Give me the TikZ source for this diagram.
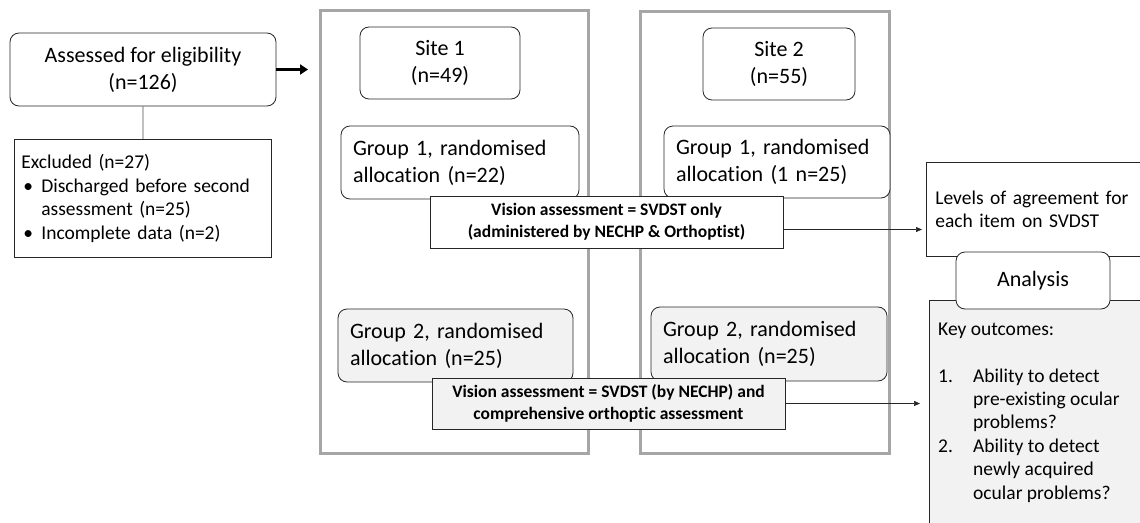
\documentclass[tikz,border=0pt]{standalone}
\usepackage{fontspec}
\usepackage{tikz}
\usepackage{xcolor}
\usetikzlibrary{arrows.meta}
\setmainfont{Carlito}[Ligatures=NoCommon]

\definecolor{boxgray}{HTML}{F2F2F2}
\definecolor{framegray}{HTML}{A6A6A6}
\newcommand{\bigtxt}{\fontsize{22}{27}\selectfont}
\newcommand{\smalltxt}{\fontsize{19.5}{23.4}\selectfont}
\newcommand{\boldtxt}{\fontsize{17.5}{22}\selectfont\bfseries}

\tikzset{
    roundbox/.style={draw=black!85, line width=0.8pt, rounded corners=9pt, fill=white, font=\bigtxt, align=center},
    groupbox/.style={roundbox, align=left, inner xsep=12pt},
    plainbox/.style={draw=black!85, line width=0.8pt, fill=white, font=\smalltxt, align=left, inner xsep=7pt},
    visionbox/.style={draw=black!85, line width=0.8pt, fill=white, font=\boldtxt, align=center},
    sitebox/.style={draw=framegray, line width=2.6pt, anchor=north west},
    thinarrow/.style={draw=black!85, line width=0.7pt, -{Triangle[length=6pt,width=5pt]}}
}

\begin{document}
\begin{tikzpicture}[x=1pt, y=-1pt]
    \useasboundingbox (0,0) rectangle (1140,522);

    % Enrolment
    \node[roundbox, minimum width=266, minimum height=73] (assessed) at (143,69.5) {Assessed for eligibility\\(n=126)};
    \node[plainbox, anchor=north west, text width=243, minimum height=118] (excluded) at (14,139)
        {Excluded (n=27)\\
         \makebox[20pt][l]{\hspace{2pt}\textbullet}Discharged before second\\
         \hspace*{20pt}assessment (n=25)\\
         \makebox[20pt][l]{\hspace{2pt}\textbullet}Incomplete data (n=2)};
    \draw[black!70, line width=0.7pt] (assessed.south) -- (excluded.north);

    % The two sites
    \node[sitebox, minimum width=268, minimum height=443] (site1frame) at (319,9) {};
    \node[sitebox, minimum width=249, minimum height=442] (site2frame) at (639,10) {};
    \draw[line width=2.6pt, -{Triangle[length=8pt,width=10pt]}, shorten >=11pt] (assessed.east) -- (assessed.east -| site1frame.west);

    \node[roundbox, minimum width=160, minimum height=72] (site1) at (440,63) {Site 1\\(n=49)};
    \node[roundbox, minimum width=152, minimum height=72] (site2) at (779,64) {Site 2\\(n=55)};

    % Randomised groups
    \node[groupbox, text width=214, minimum height=73] (group1a) at (460,162.5) {Group 1, randomised\\allocation (n=22)};
    \node[groupbox, text width=202, minimum height=72] (group1b) at (777,162) {Group 1, randomised\\allocation (1 n=25)};
    \node[groupbox, fill=boxgray, text width=211, minimum height=73] (group2a) at (455.5,345.5) {Group 2, randomised\\allocation (n=25)};
    \node[groupbox, fill=boxgray, text width=212, minimum height=74] (group2b) at (769,344) {Group 2, randomised\\allocation (n=25)};

    % Vision assessments
    \node[visionbox, minimum width=353, minimum height=52] (vision1) at (606.5,222) {Vision assessment = SVDST only\\(administered by NECHP \& Orthoptist)};
    \node[visionbox, fill=boxgray, minimum width=353, minimum height=51] (vision2) at (608.5,403.5) {Vision assessment = SVDST (by NECHP) and\\comprehensive orthoptic assessment};

    % Analysis
    \node[plainbox, anchor=north west, text width=212, inner xsep=9pt, minimum height=94] (levels) at (926,162) {Levels of agreement for\\each item on SVDST};
    \node[plainbox, fill=boxgray, anchor=north west, minimum width=240, minimum height=240] (keyout) at (929,300) {};
    \node[font=\smalltxt, align=left, anchor=north west, inner sep=0pt] (keytext) at (938,322.5)
        {Key outcomes:\\[23.4pt]
         \makebox[35pt][l]{1.}Ability to detect\\
         \hspace*{35pt}pre-existing ocular\\
         \hspace*{35pt}problems?\\
         \makebox[35pt][l]{2.}Ability to detect\\
         \hspace*{35pt}newly acquired\\
         \hspace*{35pt}ocular problems?};
    \node[roundbox, minimum width=154, minimum height=57] (analysis) at (1033,280.5) {Analysis};

    % Links to the analysis
    \coordinate (vision1out) at ([yshift=-7.5pt]vision1.east);
    \draw[thinarrow, shorten >=4pt] (vision1out) -- (vision1out -| levels.west);
    \draw[thinarrow, shorten >=9pt] (vision2.east) -- (vision2.east -| keyout.west);
\end{tikzpicture}
\end{document}
